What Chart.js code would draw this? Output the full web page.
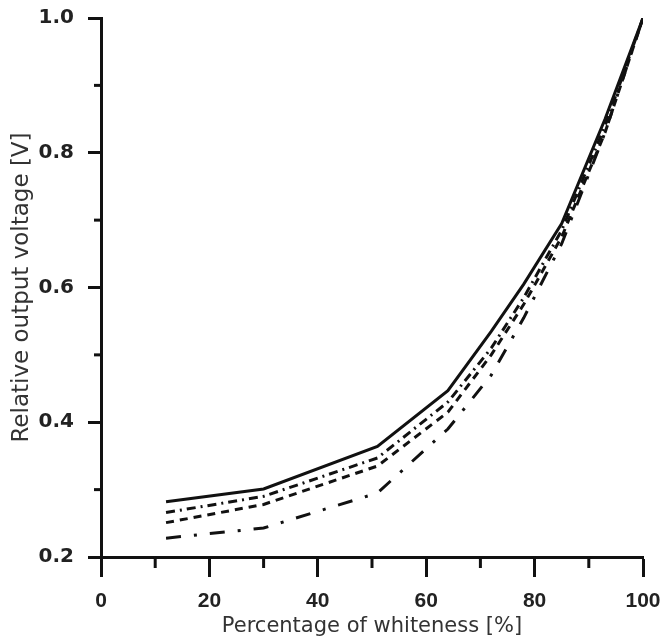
<!DOCTYPE html>
<html>
<head>
<meta charset="utf-8">
<script src="https://cdn.jsdelivr.net/npm/chart.js@4/dist/chart.umd.min.js"></script>
<style>
  body { margin: 0; background: #fff; }
  canvas { display: block; }
</style>
</head>
<body>
<canvas id="whiteChart" width="661" height="639"></canvas>
<script>
// percentage of whiteness (x) and relative output voltage (y) per curve
const xSolid  = [12, 30, 51, 64, 72, 78, 85, 93, 100];
const ySolid  = [0.282, 0.301, 0.364, 0.447, 0.535, 0.605, 0.695, 0.85, 1.0];
const xDashDot = [12, 30, 51, 64, 72, 78, 85, 93, 100];
const yDashDot = [0.266, 0.290, 0.347, 0.430, 0.510, 0.585, 0.685, 0.84, 1.0];
const xDashed = [12, 30, 51, 64, 72, 78, 85, 93, 100];
const yDashed = [0.251, 0.278, 0.335, 0.415, 0.500, 0.575, 0.675, 0.83, 1.0];
const xLongDash = [12, 30, 51, 64, 72, 78, 85, 93, 100];
const yLongDash = [0.228, 0.243, 0.295, 0.390, 0.470, 0.555, 0.665, 0.83, 1.0];

const xTicks = [0, 20, 40, 60, 80, 100];
const xMinor = [10, 30, 50, 70, 90];
const yTicks = [0.2, 0.4, 0.6, 0.8, 1.0];
const yMinor = [0.3, 0.5, 0.7, 0.9];

function pts(xs, ys) {
  return xs.map(function(x, i) { return {x: x, y: ys[i]}; });
}

function line(data, dash) {
  return {
    data: data,
    borderColor: "#111",
    borderWidth: 3,
    borderDash: dash,
    pointRadius: 0,
    tension: 0,
    fill: false
  };
}

// short ticks between the labelled ones
const minorTicks = {
  id: "minorTicks",
  afterDraw: function(chart) {
    var ctx = chart.ctx;
    var xs = chart.scales.x, ys = chart.scales.y;
    ctx.save();
    ctx.strokeStyle = "#111";
    ctx.lineWidth = 3;
    xMinor.forEach(function(v) {
      var px = xs.getPixelForValue(v);
      ctx.beginPath();
      ctx.moveTo(px, xs.top);
      ctx.lineTo(px, xs.top + 11);
      ctx.stroke();
    });
    yMinor.forEach(function(v) {
      var py = ys.getPixelForValue(v);
      ctx.beginPath();
      ctx.moveTo(ys.right, py);
      ctx.lineTo(ys.right - 7, py);
      ctx.stroke();
    });
    ctx.restore();
  }
};

new Chart("whiteChart", {
  type: "line",
  data: {
    datasets: [
      line(pts(xSolid, ySolid), []),
      line(pts(xDashDot, yDashDot), [9, 5, 2, 5]),
      line(pts(xDashed, yDashed), [8, 6]),
      line(pts(xLongDash, yLongDash), [15, 13, 3, 13])
    ]
  },
  options: {
    responsive: false,
    animation: false,
    layout: { padding: { left: 0, top: 18, right: 18, bottom: 0 } },
    plugins: { legend: { display: false }, tooltip: { enabled: false } },
    scales: {
      x: {
        type: "linear",
        min: 0,
        max: 100,
        afterBuildTicks: function(scale) {
          scale.ticks = xTicks.map(function(v) { return {value: v}; });
        },
        afterFit: function(scale) {
          scale.height = 82;
          scale.paddingRight = 0;
          scale.paddingLeft = 0;
        },
        border: { display: true, color: "#111", width: 3 },
        grid: { drawOnChartArea: false, drawTicks: true, tickLength: 20, tickWidth: 3, tickColor: "#111" },
        ticks: {
          padding: 12,
          color: "#222",
          maxRotation: 0,
          font: { family: "Liberation Sans", size: 21, weight: "bold" }
        },
        title: {
          display: true,
          text: "Percentage of whiteness [%]",
          color: "#333",
          padding: { top: 0, bottom: 0 },
          font: { family: "DejaVu Sans", size: 21 }
        }
      },
      y: {
        type: "linear",
        min: 0.2,
        max: 1.0,
        afterBuildTicks: function(scale) {
          scale.ticks = yTicks.map(function(v) { return {value: v}; });
        },
        afterFit: function(scale) {
          scale.width = 101;
          scale.paddingTop = 0;
          scale.paddingBottom = 0;
        },
        border: { display: true, color: "#111", width: 3 },
        grid: { drawOnChartArea: false, drawTicks: true, tickLength: 13, tickWidth: 3, tickColor: "#111" },
        ticks: {
          padding: 14,
          color: "#222",
          font: { family: "DejaVu Sans", size: 20, weight: "bold" },
          callback: function(v) { return Number(v).toFixed(1); }
        },
        title: {
          display: true,
          text: "Relative output voltage [V]",
          color: "#333",
          padding: { top: 8, bottom: 0 },
          font: { family: "DejaVu Sans", size: 23 }
        }
      }
    }
  },
  plugins: [minorTicks]
});
</script>
</body>
</html>
